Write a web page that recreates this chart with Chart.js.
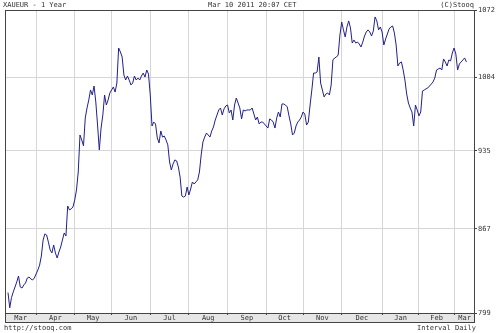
<!DOCTYPE html>
<html>
<head>
<meta charset="utf-8">
<title>XAUEUR - 1 Year</title>
<script src="https://cdn.jsdelivr.net/npm/chart.js@4.4.1/dist/chart.umd.min.js"></script>
<style>
html, body { margin: 0; padding: 0; background: #fff; }
#wrap { width: 500px; height: 333px; }
</style>
</head>
<body>
<div id="wrap"><canvas id="myChart"></canvas></div>
<script>
// XAU/EUR daily close, one value per weekday, Mar 10 2010 .. Mar 10 2011
const prices = [
    815, 803, 811, 815.5, 819.4, 823.4, 828.2, 819.4, 818.6, 821,
    822.6, 826.6, 827.4, 825.8, 825, 826.6, 829.8, 833, 837, 844.4,
    857.6, 862.7, 861.8, 855.9, 849.4, 846.9, 853.5, 846.9, 842.8, 847.7,
    851.8, 857.6, 863.5, 861, 886.4, 883, 883.9, 885.6, 891.6, 900.2,
    916.1, 949.6, 945, 939.6, 965.4, 974.8, 982.4, 992, 987.2, 995.8,
    980.5, 958.8, 935.9, 956, 968.2, 987.2, 977.6, 982.4, 989.1, 992,
    994.9, 990, 998.7, 1033.2, 1029.2, 1024.2, 1006.5, 1001.6, 1005.5, 1001.6,
    996.8, 998.7, 1005.5, 1001.6, 1003.5, 1001.6, 1005.5, 1008.4, 1004.5, 1011.4,
    1007.4, 987.2, 957.9, 961.6, 959.8, 946.9, 942.3, 953.3, 947.7, 948.6,
    945, 940.5, 925.1, 917.9, 923.3, 926.9, 926, 920.6, 911.6, 895,
    894.1, 895, 902.9, 895.9, 901.1, 907.3, 905.5, 907.3, 909.1, 916.1,
    931.4, 943.2, 947.7, 951.4, 949.6, 947.7, 953.3, 957, 963.5, 968.2,
    972.9, 974.8, 968.2, 973.9, 976.7, 977.6, 970.1, 972.9, 963.5, 977.6,
    984.3, 979.5, 974.8, 964.5, 972.9, 972, 972.9, 972.9, 972.9, 974.8,
    969.1, 963.5, 966.3, 959.8, 961.6, 961.6, 959.8, 957.9, 956, 964.5,
    963.5, 961.6, 956, 965.4, 971, 966.3, 978.6, 978.6, 977.6, 975.8,
    967.3, 959.8, 949.6, 951.4, 957.9, 961.6, 963.5, 966.3, 971, 969.1,
    958.8, 961.6, 977.6, 992, 1008.4, 1008.4, 1009.4, 1024.2, 998.7, 992,
    985.3, 988.1, 989.1, 987.2, 996.8, 1021.3, 1023.3, 1024.2, 1026.2, 1046.3,
    1059.6, 1051.5, 1044.3, 1054.5, 1060.7, 1053.5, 1038.2, 1041.2, 1038.2, 1039.2,
    1037.2, 1034.2, 1039.2, 1045.3, 1049.4, 1051.5, 1049.4, 1045.3, 1050.4, 1064.8,
    1060.7, 1051.5, 1054.5, 1049.4, 1036.2, 1042.2, 1047.3, 1052.5, 1054.5, 1055.5,
    1048.4, 1036.2, 1015.3, 1018.3, 1019.3, 1011.4, 1001.6, 988.1, 979.5, 974.8,
    971, 957.9, 977.6, 972.9, 967.3, 971, 991, 992, 993, 993.9,
    995.8, 997.7, 999.7, 1003.5, 1011.4, 1012.4, 1013.3, 1011.4, 1022.3, 1019.3,
    1015.3, 1021.3, 1020.3, 1028.2, 1033.2, 1027.2, 1011.4, 1017.3, 1019.3, 1021.3,
    1023.3, 1019.3
];

// month labels, and the weekday index where each new month starts
const monthNames = ['Mar', 'Apr', 'May', 'Jun', 'Jul', 'Aug', 'Sep', 'Oct', 'Nov', 'Dec', 'Jan', 'Feb', 'Mar'];
const monthStarts = [16, 38, 59, 81, 103, 125, 147, 168, 190, 213, 234, 254];
const yTicks = [799, 867, 935, 1004, 1072];

const xMin = -1.7;
const xMax = 265.9;
const FONT = 'DejaVu Sans Mono';

const edges = [xMin, ...monthStarts, xMax];
const monthMids = monthNames.map((m, k) => (edges[k] + edges[k + 1]) / 2);

const frame = {
    id: 'frame',
    beforeDraw(chart) {
        const c = chart.ctx, a = chart.chartArea;
        c.save();
        c.fillStyle = '#e6e6e6';
        c.fillRect(a.left, a.bottom, a.right - a.left, 9);
        c.restore();
    },
    afterDraw(chart) {
        const c = chart.ctx, a = chart.chartArea;
        c.save();
        c.strokeStyle = '#444';
        c.lineWidth = 1;
        c.strokeRect(a.left + 0.5, a.top + 0.5, a.right - a.left - 1, a.bottom - a.top);
        c.strokeRect(a.left + 0.5, a.bottom + 0.5, a.right - a.left - 1, 9);
        c.fillStyle = '#333';
        c.font = '7px "' + FONT + '"';
        c.textBaseline = 'middle';
        c.textAlign = 'left';
        c.fillText('XAUEUR - 1 Year', 3, 5);
        c.fillText('Mar 10 2011 20:07 CET', 208, 5);
        c.fillText('http://stooq.com', 4, 328);
        c.textAlign = 'right';
        c.fillText('(C)Stooq', 474, 5);
        c.fillText('Interval Daily', 476, 328);
        c.restore();
    }
};

const ctx = document.getElementById('myChart');
const myChart = new Chart(ctx, {
    type: 'line',
    data: {
        datasets: [{
            label: 'XAUEUR',
            data: prices.map((v, i) => ({ x: i, y: v })),
            borderColor: '#20208c',
            borderWidth: 1,
            pointRadius: 0,
            tension: 0
        }]
    },
    options: {
        animation: false,
        responsive: true,
        maintainAspectRatio: false,
        devicePixelRatio: 1,
        layout: { padding: { top: 10, left: 5, right: 0, bottom: 11 } },
        plugins: {
            legend: { display: false },
            tooltip: { enabled: false }
        },
        scales: {
            x: {
                type: 'linear',
                min: xMin,
                max: xMax,
                afterBuildTicks: (axis) => {
                    const t = monthStarts.map(v => ({ value: v, name: '' }))
                        .concat(monthMids.map((v, k) => ({ value: v, name: monthNames[k], mid: true })));
                    t.sort((a, b) => a.value - b.value);
                    axis.ticks = t;
                },
                afterFit: (axis) => { axis.height = 9; },
                border: { display: false },
                grid: {
                    color: (c) => (c.tick && c.tick.mid) ? 'rgba(0,0,0,0)' : '#d6d6d6',
                    tickColor: (c) => (c.tick && c.tick.mid) ? 'rgba(0,0,0,0)' : '#444',
                    tickLength: 2
                },
                ticks: {
                    autoSkip: false,
                    maxRotation: 0,
                    padding: -1,
                    color: '#333',
                    font: { family: FONT, size: 7 },
                    callback: (v, i, t) => t[i].name
                }
            },
            y: {
                type: 'logarithmic',
                position: 'right',
                min: 799,
                max: 1072,
                afterBuildTicks: (axis) => {
                    axis.ticks = yTicks.map(v => ({ value: v }));
                },
                afterFit: (axis) => { axis.width = 25; },
                border: { display: false },
                grid: {
                    color: '#d6d6d6',
                    tickColor: '#444',
                    tickLength: 2
                },
                ticks: {
                    padding: 1,
                    color: '#333',
                    font: { family: FONT, size: 7 },
                    callback: (v) => String(v)
                }
            }
        }
    },
    plugins: [frame]
});
</script>
</body>
</html>
